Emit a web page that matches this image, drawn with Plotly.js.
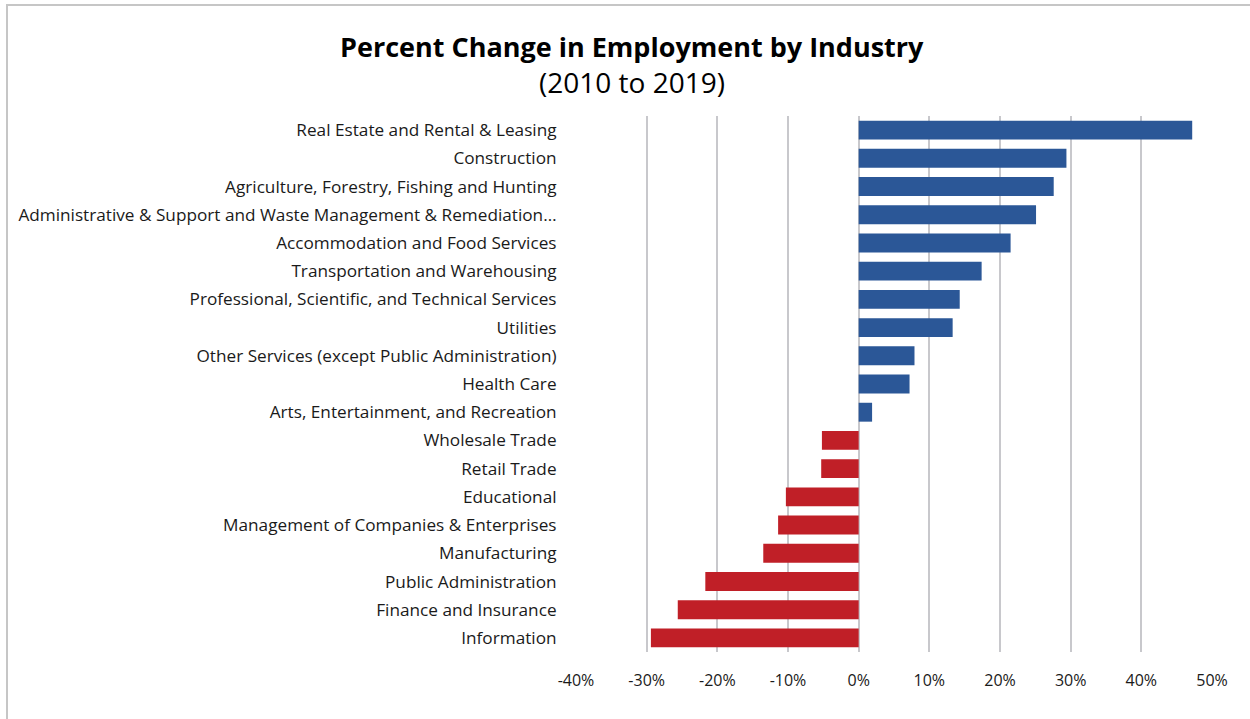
<!DOCTYPE html>
<html>
<head>
<meta charset="utf-8">
<script src="https://cdn.plot.ly/plotly-3.0.1.min.js"></script>
<style>
  html, body { margin: 0; padding: 0; background: #fff; }
  #frame { position: absolute; left: 6px; top: 4px; width: 1300px; height: 800px;
           border-left: 2px solid #c6c6c6; border-top: 2px solid #c6c6c6; }
  #chart { position: absolute; left: 0; top: 0; width: 1250px; height: 719px; }
</style>
</head>
<body>
<div id="frame"></div>
<div id="chart"></div>
<script>
const industries = [
  "Real Estate and Rental & Leasing",
  "Construction",
  "Agriculture, Forestry, Fishing and Hunting",
  "Administrative & Support and Waste Management & Remediation…",
  "Accommodation and Food Services",
  "Transportation and Warehousing",
  "Professional, Scientific, and Technical Services",
  "Utilities",
  "Other Services (except Public Administration)",
  "Health Care",
  "Arts, Entertainment, and Recreation",
  "Wholesale Trade",
  "Retail Trade",
  "Educational",
  "Management of Companies & Enterprises",
  "Manufacturing",
  "Public Administration",
  "Finance and Insurance",
  "Information"
];
const pctChange = [
  0.472, 0.294, 0.276, 0.251, 0.215, 0.174, 0.143, 0.133, 0.079, 0.072, 0.019,
  -0.052, -0.053, -0.103, -0.114, -0.135, -0.217, -0.256, -0.294
];
const tickValues = [-0.4, -0.3, -0.2, -0.1, 0, 0.1, 0.2, 0.3, 0.4, 0.5];
const tickLabels = ["-40%", "-30%", "-20%", "-10%", "0%", "10%", "20%", "30%", "40%", "50%"];
const titleText = "Percent Change in Employment by Industry";
const subtitleText = "(2010 to 2019)";

const barColors = pctChange.map(v => v >= 0 ? "#2B5797" : "#C01F27");
const FONT = "'Open Sans', Lato, sans-serif";

const trace = {
  type: "bar",
  orientation: "h",
  x: pctChange,
  y: industries,
  width: 0.67,
  marker: { color: barColors, line: { width: 0 } },
  hoverinfo: "x+y"
};

const layout = {
  width: 1250,
  height: 719,
  paper_bgcolor: "rgba(0,0,0,0)",
  plot_bgcolor: "rgba(0,0,0,0)",
  margin: { l: 576, r: 38, t: 116, b: 67 },
  showlegend: false,
  font: { family: FONT, color: "#1a1a1a" },
  xaxis: {
    range: [-0.4, 0.5],
    tickvals: tickValues,
    ticktext: tickLabels,
    showgrid: true,
    gridcolor: "#c8c8cc",
    gridwidth: 2,
    zeroline: true,
    zerolinecolor: "#c8c8cc",
    zerolinewidth: 2,
    showline: false,
    ticks: "outside",
    ticklen: 14,
    tickcolor: "rgba(0,0,0,0)",
    tickfont: { size: 16, color: "#1a1a1a", family: FONT },
    fixedrange: true
  },
  yaxis: {
    type: "category",
    autorange: "reversed",
    showgrid: false,
    zeroline: false,
    showline: false,
    ticks: "outside",
    ticklen: 15,
    tickcolor: "rgba(0,0,0,0)",
    tickfont: { size: 17.2, color: "#1a1a1a", family: FONT },
    fixedrange: true
  },
  annotations: [
    {
      text: "<b>" + titleText + "</b>",
      xref: "paper", yref: "paper",
      x: (632 - 576) / 636, y: (652 - 47) / 536,
      xanchor: "center", yanchor: "middle",
      showarrow: false,
      font: { size: 27, color: "#000", family: FONT }
    },
    {
      text: subtitleText,
      xref: "paper", yref: "paper",
      x: (632 - 576) / 636, y: (652 - 82) / 536,
      xanchor: "center", yanchor: "middle",
      showarrow: false,
      font: { size: 28, color: "#000", family: FONT }
    }
  ]
};

Plotly.newPlot("chart", [trace], layout, { displayModeBar: false });
</script>
</body>
</html>
